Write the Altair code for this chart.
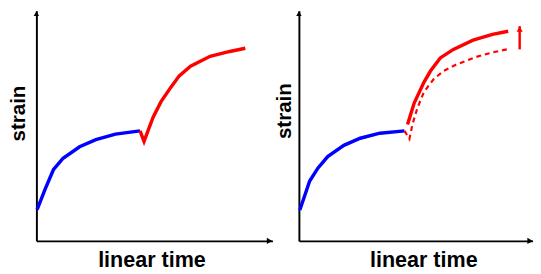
import altair as alt
import pandas as pd

# ---- data (x: linear time 0-100, y: strain 0-100) ----
# left panel
blue1_x = [0.3, 3.7, 7.2, 11.3, 18.3, 25.2, 33.5, 43.9]
blue1_y = [13.6, 22.5, 30.9, 35.9, 40.9, 44.0, 46.4, 47.8]
red1_x = [43.9, 45.6, 49.4, 52.8, 57.0, 60.5, 65.3, 73.6, 81.9, 88.5]
red1_y = [47.8, 43.2, 53.6, 60.5, 66.8, 71.7, 75.9, 80.2, 82.3, 83.7]

# right panel
blue2_x = [0.4, 4.6, 8.1, 12.3, 19.2, 26.2, 34.6, 45.1]
blue2_y = [13.4, 26.0, 31.6, 36.6, 41.5, 44.6, 46.8, 47.8]
dash2_x = [45.1, 47.2, 48.5, 50.6, 53.4, 57.6, 61.8, 67.4, 75.7, 82.7, 89.7]
dash2_y = [47.8, 44.3, 50.6, 57.7, 64.7, 70.3, 73.8, 76.7, 79.9, 81.9, 83.4]
solid2_x = [46.4, 49.2, 53.4, 56.2, 60.4, 66.0, 74.4, 82.7, 89.4]
solid2_y = [50.6, 59.8, 68.9, 73.8, 79.5, 83.2, 87.2, 89.7, 91.1]
arrow2_x = [94.3]
arrow2_y = [83.2]
arrow2_tip = [93.3]

x_title = "linear time"
y_title = "strain"

FONT = "Liberation Sans"


def df(xs, ys):
    return pd.DataFrame({"x": xs, "y": ys})


def enc(y_pad, y_title_y, x_title_x):
    x = alt.X("x:Q", scale=alt.Scale(domain=[0, 100], nice=False, zero=False),
              axis=alt.Axis(title=x_title, labels=False, ticks=False, grid=False,
                            domainColor="black", domainWidth=2,
                            titleFont=FONT, titleFontSize=22, titleFontWeight="bold",
                            titleColor="black", titlePadding=9, titleX=x_title_x))
    y = alt.Y("y:Q", scale=alt.Scale(domain=[0, 100], nice=False, zero=False),
              axis=alt.Axis(title=y_title, labels=False, ticks=False, grid=False,
                            domainColor="black", domainWidth=2,
                            titleFont=FONT, titleFontSize=21, titleFontWeight="bold",
                            titleColor="black", titlePadding=y_pad, titleY=y_title_y))
    return x, y


def axis_arrows(x, y):
    xa = alt.Chart(pd.DataFrame({"x": [100], "y": [0]})).mark_point(
        shape="triangle-right", filled=True, size=40, color="black", opacity=1, xOffset=-3
    ).encode(x=x, y=y)
    ya = alt.Chart(pd.DataFrame({"x": [0], "y": [100]})).mark_point(
        shape="triangle-up", filled=True, size=30, color="black", opacity=1, yOffset=3
    ).encode(x=x, y=y)
    return xa, ya


H = 235

# left panel
x1, y1 = enc(8, 104.5, 117.5)
xa1, ya1 = axis_arrows(x1, y1)
left = alt.layer(
    alt.Chart(df(blue1_x, blue1_y)).mark_line(color="#0000ff", strokeWidth=3.5).encode(x=x1, y=y1, order="x:Q"),
    alt.Chart(df(red1_x, red1_y)).mark_line(color="#ff0000", strokeWidth=3.5).encode(x=x1, y=y1, order="x:Q"),
    xa1, ya1,
).properties(width=241, height=H)

# right panel
x2, y2 = enc(5, 102, 127)
xa2, ya2 = axis_arrows(x2, y2)
arrow_shaft = pd.DataFrame({"x": arrow2_x, "y": arrow2_y, "y2": arrow2_tip})
arrow_head = df(arrow2_x, arrow2_tip)
right = alt.layer(
    alt.Chart(df(blue2_x, blue2_y)).mark_line(color="#0000ff", strokeWidth=3.5).encode(x=x2, y=y2, order="x:Q"),
    alt.Chart(df(dash2_x, dash2_y)).mark_line(color="#ff0000", strokeWidth=2.2, strokeDash=[5, 4]).encode(x=x2, y=y2, order="x:Q"),
    alt.Chart(df(solid2_x, solid2_y)).mark_line(color="#ff0000", strokeWidth=3.5).encode(x=x2, y=y2, order="x:Q"),
    alt.Chart(arrow_shaft).mark_rule(color="#ff0000", strokeWidth=2.5).encode(x=x2, y=y2, y2=alt.Y2("y2:Q")),
    alt.Chart(arrow_head).mark_point(shape="triangle-up", filled=True, size=40, color="#ff0000", opacity=1, yOffset=3)
        .encode(x=x2, y=y2),
    xa2, ya2,
).properties(width=239, height=H)

chart = alt.hconcat(left, right, spacing=1).properties(padding=0).configure_view(stroke=None)

chart.save("out.html", embed_options={"renderer": "svg", "actions": False})
